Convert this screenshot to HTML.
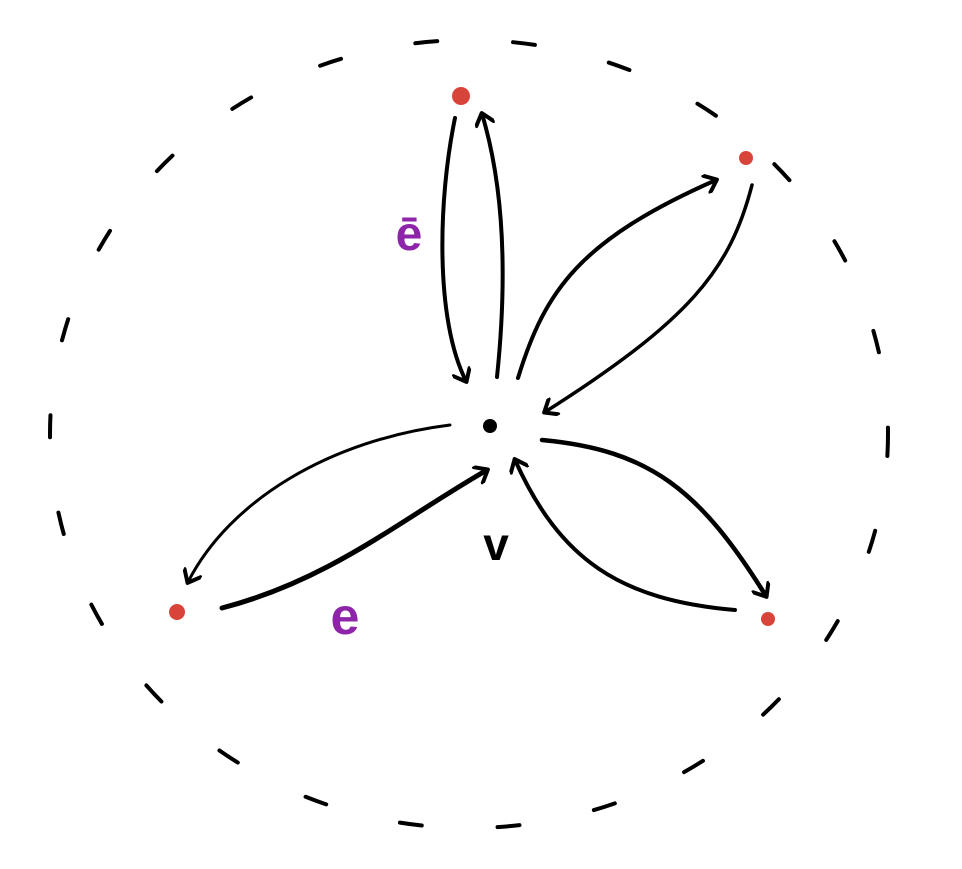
<!DOCTYPE html>
<html>
<head>
<meta charset="utf-8">
<style>
  html,body{margin:0;padding:0;background:#fff;}
  svg{display:block;}
</style>
</head>
<body>
<svg width="962" height="869" viewBox="0 0 962 869" xmlns="http://www.w3.org/2000/svg">
  <defs>
    <marker id="ah" markerWidth="20" markerHeight="20" refX="12" refY="10" orient="auto" markerUnits="userSpaceOnUse">
      <path d="M2,1 L13,10 L2,19" fill="none" stroke="#000" stroke-width="4" stroke-linecap="round" stroke-linejoin="round"/>
    </marker>
  </defs>

  <ellipse cx="469" cy="434" rx="419" ry="394" fill="none" stroke="#000" stroke-width="4" stroke-dasharray="22 76" stroke-linecap="round"/>

  <g fill="none" stroke="#000" stroke-linecap="round">
    <path d="M455,118 C438,200 435,320 466,381" stroke-width="4" marker-end="url(#ah)"/>
    <path d="M497,377 C505,300 508,200 482,114" stroke-width="4" marker-end="url(#ah)"/>
    <path d="M518,378 C545,290 580,240 716,180" stroke-width="4" marker-end="url(#ah)"/>
    <path d="M752,185 C730,270 690,320 545,412" stroke-width="3.5" marker-end="url(#ah)"/>
    <path d="M542,440 C650,450 700,490 766,596" stroke-width="4.5" marker-end="url(#ah)"/>
    <path d="M735,610 C620,600 560,560 515,460" stroke-width="4" marker-end="url(#ah)"/>
    <path d="M450,425 C330,440 230,500 188,582" stroke-width="3" marker-end="url(#ah)"/>
    <path d="M222,608 C330,580 400,520 487,470" stroke-width="5" marker-end="url(#ah)"/>
  </g>

  <circle cx="490" cy="426" r="7" fill="#000"/>
  <circle cx="461" cy="96" r="9" fill="#d9443a"/>
  <circle cx="746" cy="158" r="7" fill="#d9443a"/>
  <circle cx="177" cy="612" r="8" fill="#d9443a"/>
  <circle cx="768" cy="619" r="7" fill="#d9443a"/>

  <text x="496" y="560" font-family="Liberation Sans, sans-serif" font-size="46" font-weight="bold" text-anchor="middle" fill="#000">v</text>
  <text x="345" y="634" font-family="Liberation Sans, sans-serif" font-size="52" font-weight="bold" text-anchor="middle" fill="#8e24aa">e</text>
  <text x="409" y="250" font-family="Liberation Sans, sans-serif" font-size="48" font-weight="bold" text-anchor="middle" fill="#8e24aa">ē</text>
</svg>
</body>
</html>
